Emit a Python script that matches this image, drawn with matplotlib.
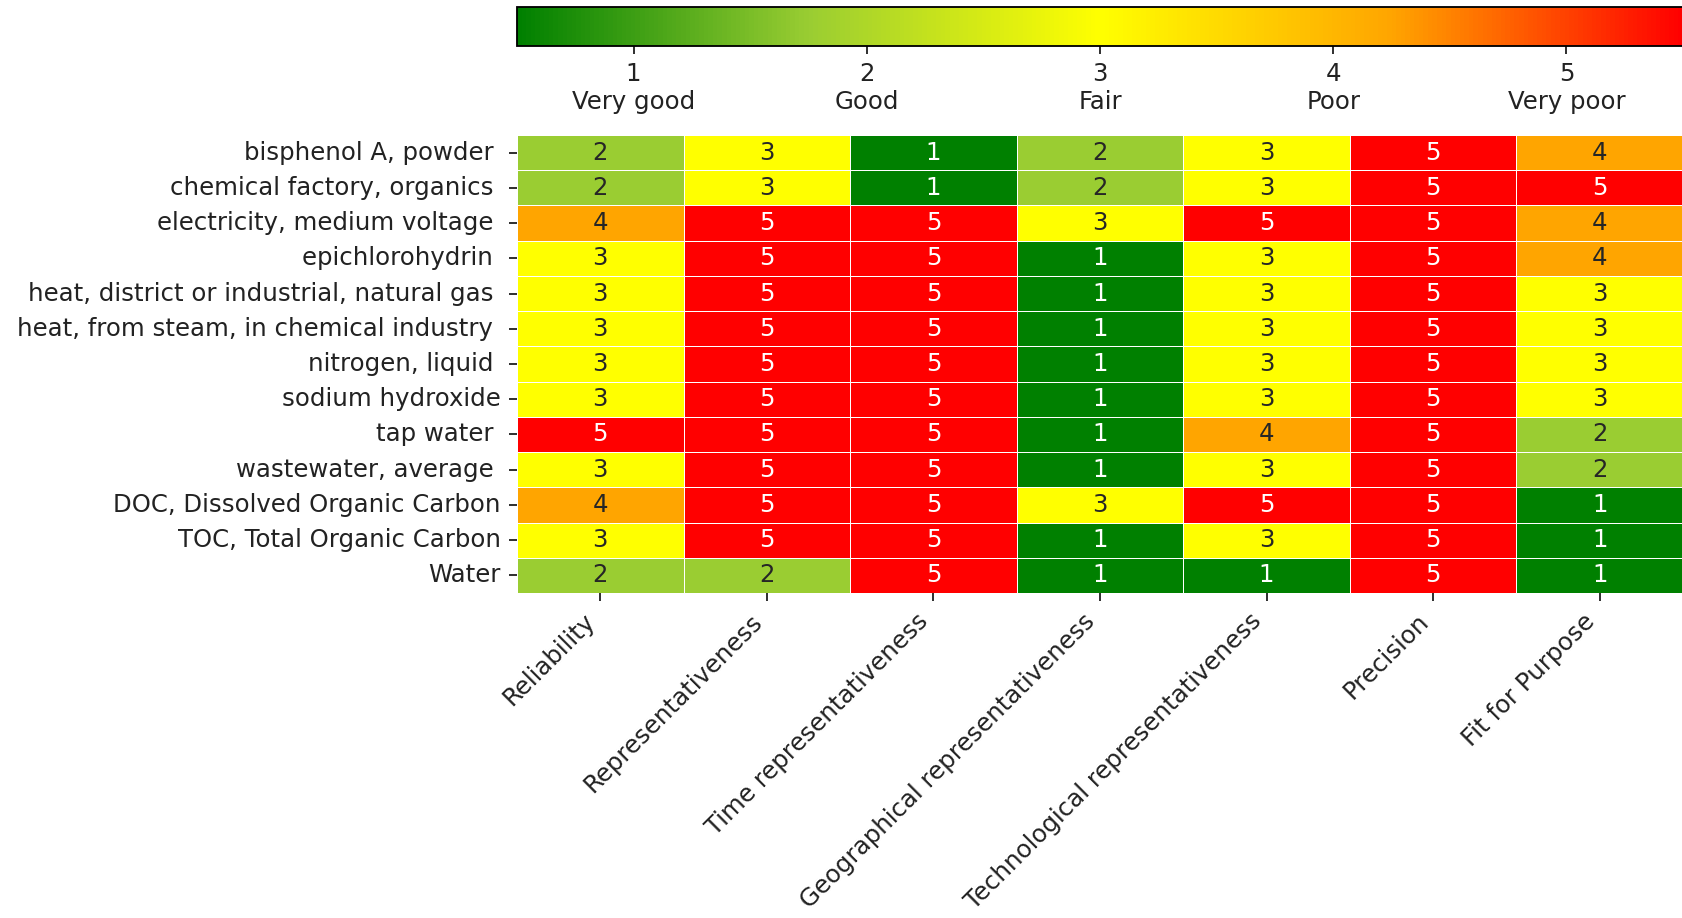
import matplotlib
matplotlib.use("Agg")
import matplotlib.pyplot as plt
import numpy as np
import pandas as pd
import seaborn as sns
from matplotlib.colors import ListedColormap, BoundaryNorm, LinearSegmentedColormap, Normalize
from matplotlib.cm import ScalarMappable

rows = [
    "bisphenol A, powder ",
    "chemical factory, organics ",
    "electricity, medium voltage ",
    "epichlorohydrin ",
    "heat, district or industrial, natural gas ",
    "heat, from steam, in chemical industry ",
    "nitrogen, liquid ",
    "sodium hydroxide",
    "tap water ",
    "wastewater, average ",
    "DOC, Dissolved Organic Carbon",
    "TOC, Total Organic Carbon",
    "Water",
]
columns = [
    "Reliability",
    "Representativeness",
    "Time representativeness",
    "Geographical representativeness",
    "Technological representativeness",
    "Precision",
    "Fit for Purpose",
]
reliability = [2, 2, 4, 3, 3, 3, 3, 3, 5, 3, 4, 3, 2]
representativeness = [3, 3, 5, 5, 5, 5, 5, 5, 5, 5, 5, 5, 2]
time_repr = [1, 1, 5, 5, 5, 5, 5, 5, 5, 5, 5, 5, 5]
geo_repr = [2, 2, 3, 1, 1, 1, 1, 1, 1, 1, 3, 1, 1]
tech_repr = [3, 3, 5, 3, 3, 3, 3, 3, 4, 3, 5, 3, 1]
precision = [5, 5, 5, 5, 5, 5, 5, 5, 5, 5, 5, 5, 5]
fit_purpose = [4, 5, 4, 4, 3, 3, 3, 3, 2, 2, 1, 1, 1]

score_ticks = [1, 2, 3, 4, 5]
score_labels = ["1\nVery good", "2\nGood", "3\nFair", "4\nPoor", "5\nVery poor"]
palette = ["green", "yellowgreen", "yellow", "orange", "red"]

df = pd.DataFrame(
    {
        columns[0]: reliability,
        columns[1]: representativeness,
        columns[2]: time_repr,
        columns[3]: geo_repr,
        columns[4]: tech_repr,
        columns[5]: precision,
        columns[6]: fit_purpose,
    },
    index=rows,
)

plt.rcParams["font.size"] = 10.6
plt.rcParams["text.color"] = "#222222"
plt.rcParams["xtick.color"] = "#222222"
plt.rcParams["ytick.color"] = "#222222"

DPI = 165.6
fig = plt.figure(figsize=(1683 / DPI, 918 / DPI), dpi=DPI)
ax = fig.add_axes([0.3072, 0.354, 0.6928, 0.499])
cax = fig.add_axes([0.3072, 0.9499, 0.6928, 0.0425])

cell_cmap = ListedColormap(palette)
cell_norm = BoundaryNorm([0.5, 1.5, 2.5, 3.5, 4.5, 5.5], cell_cmap.N)

sns.heatmap(df, ax=ax, cmap=cell_cmap, norm=cell_norm, annot=True, fmt="d",
            linewidths=0.4, linecolor="white", cbar=False,
            annot_kws={"fontsize": 10.6})
ax.set_xticklabels(columns, rotation=45, ha="right")
ax.set_yticklabels(rows, rotation=0)
ax.set_ylabel("")
ax.set_xlabel("")

grad_cmap = LinearSegmentedColormap.from_list("quality", palette, N=256)
sm = ScalarMappable(norm=Normalize(vmin=0.5, vmax=5.5), cmap=grad_cmap)
cb = fig.colorbar(sm, cax=cax, orientation="horizontal")
cb.set_ticks(score_ticks)
cb.set_ticklabels(score_labels)

fig.savefig("out.png", dpi=DPI)
